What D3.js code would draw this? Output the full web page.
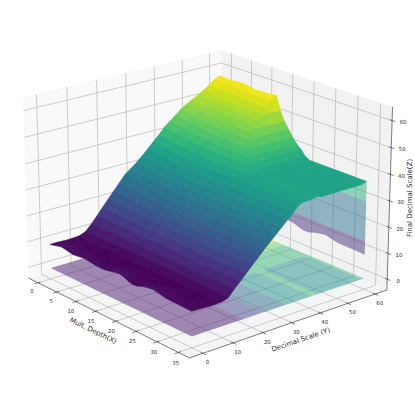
<!DOCTYPE html>
<html>
<head>
<meta charset="utf-8">
<script src="https://cdn.jsdelivr.net/npm/d3@7"></script>
<style>
  html, body { margin: 0; padding: 0; background: #fff; }
  text { font-family: "DejaVu Sans", sans-serif; fill: #2a2a2a; }
</style>
</head>
<body>
<div id="chart"></div>
<script>
// Mult. depth values along the grid (finer where the surface steps down)
let depthValues = [0, 3, 6, 9, 12, 14, 15, 16, 17, 18, 19, 20, 21, 22, 24, 26, 29, 32, 35]
// Decimal scale values along the grid
let scaleValues = d3.range(0, 61, 2)

// Final decimal scale, one row for each decimal scale value
let finalScale = [
  [9.2, 10.4, 9.5, 10.1, 9.4, 9.4, 9.7, 10.0, 10.4, 10.5, 10.0, 9.3, 8.9, 9.0, 10.1, 10.6, 9.5, 9.4, 9.2],
  [9.3, 9.9, 9.2, 9.6, 9.1, 9.1, 9.3, 9.6, 9.9, 10.0, 9.5, 9.0, 8.7, 8.8, 9.6, 10.0, 9.2, 9.2, 9.2],
  [9.2, 9.3, 8.8, 9.1, 8.7, 8.7, 8.9, 9.1, 9.3, 9.4, 9.0, 8.7, 8.5, 8.6, 9.1, 9.4, 8.9, 9.0, 9.1],
  [9.1, 8.8, 8.4, 8.6, 8.3, 8.3, 8.5, 8.6, 8.7, 8.8, 8.5, 8.3, 8.2, 8.2, 8.5, 8.7, 8.5, 8.7, 9.0],
  [9.2, 8.5, 8.1, 8.2, 8.1, 8.0, 8.1, 8.2, 8.2, 8.2, 8.1, 8.0, 8.0, 8.0, 8.0, 8.2, 8.2, 8.5, 9.0],
  [9.4, 9.0, 8.8, 8.7, 8.6, 8.5, 8.6, 8.6, 8.6, 8.6, 8.5, 8.5, 8.5, 8.5, 8.5, 8.6, 8.6, 8.8, 9.1],
  [10.3, 10.4, 10.5, 10.5, 10.4, 10.4, 10.4, 10.4, 10.4, 10.4, 10.4, 10.4, 10.3, 10.3, 10.3, 10.2, 10.2, 10.1, 9.8],
  [12.6, 12.8, 12.9, 12.8, 12.7, 12.6, 12.6, 12.6, 12.6, 12.5, 12.5, 12.5, 12.4, 12.4, 12.4, 12.3, 12.3, 12.3, 12.2],
  [15.2, 15.3, 15.2, 15.1, 14.9, 14.8, 14.8, 14.8, 14.7, 14.7, 14.7, 14.7, 14.6, 14.6, 14.6, 14.5, 14.5, 14.5, 14.4],
  [17.9, 17.9, 17.7, 17.5, 17.2, 17.0, 17.0, 17.0, 16.9, 16.9, 16.9, 16.9, 16.8, 16.8, 16.8, 16.7, 16.7, 16.7, 16.6],
  [20.6, 20.5, 20.2, 19.9, 19.5, 19.3, 19.3, 19.3, 19.2, 19.2, 19.2, 19.2, 19.1, 19.1, 19.1, 19.0, 19.0, 19.0, 18.9],
  [23.2, 23.0, 22.6, 22.1, 21.7, 21.5, 21.5, 21.5, 21.4, 21.4, 21.4, 21.4, 21.3, 21.3, 21.3, 21.2, 21.2, 21.2, 21.1],
  [25.8, 25.4, 24.9, 24.3, 23.9, 23.6, 23.6, 23.6, 23.6, 23.5, 23.5, 23.5, 23.5, 23.4, 23.4, 23.4, 23.4, 23.3, 23.3],
  [28.4, 27.6, 26.9, 26.3, 25.9, 25.6, 25.6, 25.6, 25.6, 25.6, 25.6, 25.5, 25.5, 25.5, 25.5, 25.5, 25.5, 25.5, 25.4],
  [30.0, 29.3, 28.7, 28.2, 27.8, 27.6, 27.6, 27.6, 27.6, 27.6, 27.6, 27.6, 27.6, 27.5, 27.5, 27.5, 27.5, 27.5, 27.5],
  [31.8, 31.2, 30.6, 30.2, 29.8, 29.6, 29.6, 29.6, 29.6, 29.6, 29.6, 29.6, 29.6, 29.6, 29.6, 29.6, 29.6, 29.6, 29.6],
  [33.8, 33.2, 32.6, 32.2, 31.9, 31.7, 31.7, 31.7, 31.7, 31.7, 31.7, 31.7, 31.7, 31.7, 31.7, 31.7, 31.7, 31.7, 31.7],
  [36.0, 35.4, 34.8, 34.3, 34.0, 33.8, 33.8, 33.8, 33.8, 33.8, 33.8, 33.8, 33.8, 33.8, 33.8, 33.8, 33.8, 33.8, 33.8],
  [38.2, 37.6, 37.0, 36.5, 36.2, 36.0, 36.0, 36.0, 36.0, 36.0, 36.0, 36.0, 36.0, 36.0, 36.0, 36.0, 36.0, 36.0, 36.0],
  [40.4, 39.8, 39.2, 38.7, 38.3, 38.1, 38.1, 38.1, 38.1, 38.1, 38.1, 38.1, 38.0, 36.7, 36.5, 36.6, 36.4, 36.5, 36.5],
  [42.8, 42.0, 41.3, 40.8, 40.4, 40.2, 40.2, 40.2, 40.2, 40.2, 40.2, 40.0, 38.0, 36.7, 36.5, 36.6, 36.4, 36.5, 36.5],
  [44.6, 43.8, 43.1, 42.6, 42.2, 42.0, 42.0, 42.0, 42.0, 42.0, 41.5, 40.0, 38.0, 37.1, 37.1, 37.1, 37.1, 37.1, 37.1],
  [46.3, 45.5, 44.8, 44.3, 44.0, 43.8, 43.8, 43.8, 43.8, 43.5, 41.5, 40.0, 38.0, 36.7, 36.5, 36.6, 36.4, 36.5, 36.5],
  [48.2, 47.4, 46.6, 46.1, 45.8, 45.6, 45.6, 45.6, 45.6, 43.5, 41.5, 40.0, 38.0, 36.7, 36.5, 36.6, 36.4, 36.5, 36.5],
  [49.6, 48.9, 48.2, 47.7, 47.4, 47.2, 47.2, 47.2, 46.0, 43.5, 41.5, 40.0, 38.0, 36.7, 36.5, 36.6, 36.4, 36.5, 36.5],
  [50.8, 50.2, 49.6, 49.2, 48.9, 48.8, 48.8, 48.5, 46.0, 43.5, 41.5, 40.0, 38.0, 36.7, 36.5, 36.6, 36.4, 36.5, 36.5],
  [51.9, 51.4, 50.9, 50.6, 50.4, 50.3, 50.3, 48.5, 46.0, 43.5, 41.5, 40.0, 38.0, 36.7, 36.5, 36.6, 36.4, 36.5, 36.5],
  [53.2, 52.8, 52.4, 52.1, 52.0, 51.9, 51.8, 48.5, 46.0, 43.5, 41.5, 40.0, 38.0, 36.7, 36.5, 36.6, 36.4, 36.5, 36.5],
  [54.8, 54.5, 54.2, 53.9, 53.8, 53.8, 52.0, 48.5, 46.0, 43.5, 41.5, 40.0, 38.0, 36.7, 36.5, 36.6, 36.4, 36.5, 36.5],
  [56.4, 56.2, 55.9, 55.7, 55.6, 55.8, 52.0, 48.5, 46.0, 43.5, 41.5, 40.0, 38.0, 36.7, 36.5, 36.6, 36.4, 36.5, 36.5],
  [57.4, 57.2, 57.6, 56.7, 57.0, 57.4, 52.0, 48.5, 46.0, 43.5, 41.5, 40.0, 38.0, 37.1, 37.1, 37.1, 37.1, 37.1, 37.1]
]

// Filled contour levels of the shadow on the floor and on the back wall
let floorLevels = [0, 16, 24, 32, 36.8, 48, 56]
let floorColors = [12, 20, 28, 36, 46, 52, 60]
let wallLevels = [0, 16, 30, 46, 60]

let xTicks = [0, 5, 10, 15, 20, 25, 30, 35]
let yTicks = [0, 10, 20, 30, 40, 50, 60]
let zTicks = [0, 10, 20, 30, 40, 50, 60]

let width = 415
let height = 401

let xLim = [-2.55, 37.55]
let yLim = [-4.375, 64.375]
let zLim = [-4.2, 65]

let xBox = d3.scaleLinear().domain(xLim).range([-0.595, 0.595])
let yBox = d3.scaleLinear().domain(yLim).range([-0.595, 0.595])
let zBox = d3.scaleLinear().domain(zLim).range([-0.446, 0.446])

let xScreen = d3.scaleLinear().domain([-0.1, 0.1]).range([206.5 - 217, 206.5 + 217])
let yScreen = d3.scaleLinear().domain([-0.1, 0.1]).range([194.4 + 217, 194.4 - 217])

// Camera: elevation 20, azimuth -40, distance 10
let elev = 20 * Math.PI / 180
let azim = -40 * Math.PI / 180
let n = [Math.cos(elev) * Math.cos(azim), Math.cos(elev) * Math.sin(azim), Math.sin(elev)]
let u = [-Math.sin(azim), Math.cos(azim), 0]
let v = [-Math.sin(elev) * Math.cos(azim), -Math.sin(elev) * Math.sin(azim), Math.cos(elev)]
let cameraDistance = 10

function dot(a, b) {
  return a[0] * b[0] + a[1] * b[1] + a[2] * b[2]
}

function depth(x, y, z) {
  return dot(n, [xBox(x), yBox(y), zBox(z)])
}

function project(x, y, z) {
  let p = [xBox(x), yBox(y), zBox(z)]
  let w = cameraDistance - dot(n, p)
  return [xScreen(dot(u, p) / w), yScreen(dot(v, p) / w)]
}

function polygon(points) {
  return 'M' + points.map(d => d[0].toFixed(2) + ',' + d[1].toFixed(2)).join('L') + 'Z'
}

let svg = d3.select('#chart')
  .append('svg')
  .attr('width', width)
  .attr('height', height)
  .style('display', 'block')

// Panes
let panes = [
  { fill: '#f5f5f5', corners: [[xLim[0], yLim[0], zLim[0]], [xLim[1], yLim[0], zLim[0]], [xLim[1], yLim[1], zLim[0]], [xLim[0], yLim[1], zLim[0]]] },
  { fill: '#f9f9f9', corners: [[xLim[0], yLim[0], zLim[0]], [xLim[0], yLim[1], zLim[0]], [xLim[0], yLim[1], zLim[1]], [xLim[0], yLim[0], zLim[1]]] },
  { fill: '#f2f2f2', corners: [[xLim[0], yLim[1], zLim[0]], [xLim[1], yLim[1], zLim[0]], [xLim[1], yLim[1], zLim[1]], [xLim[0], yLim[1], zLim[1]]] }
]

svg.append('g')
  .selectAll('path')
  .data(panes)
  .join('path')
  .attr('d', d => polygon(d.corners.map(c => project(c[0], c[1], c[2]))))
  .attr('fill', d => d.fill)

// Grid lines
let gridLines = []
xTicks.forEach(t => {
  gridLines.push([[t, yLim[0], zLim[0]], [t, yLim[1], zLim[0]], [t, yLim[1], zLim[1]]])
})
yTicks.forEach(t => {
  gridLines.push([[xLim[1], t, zLim[0]], [xLim[0], t, zLim[0]], [xLim[0], t, zLim[1]]])
})
zTicks.forEach(t => {
  gridLines.push([[xLim[0], yLim[0], t], [xLim[0], yLim[1], t], [xLim[1], yLim[1], t]])
})

let line = d3.line()

svg.append('g')
  .selectAll('path')
  .data(gridLines)
  .join('path')
  .attr('d', d => line(d.map(c => project(c[0], c[1], c[2]))))
  .attr('fill', 'none')
  .attr('stroke', '#b8b8b8')
  .attr('stroke-width', 0.7)

// Shadow on the floor: filled contours of the surface at z = 0
let columnToDepth = d3.scaleLinear().domain(d3.range(depthValues.length)).range(depthValues).clamp(true)
let rowToScale = d3.scaleLinear().domain(d3.range(scaleValues.length)).range(scaleValues).clamp(true)
let floorColor = d3.scaleSequential(d3.interpolateViridis).domain([8, 64])

let contours = d3.contours()
  .size([depthValues.length, scaleValues.length])
  .thresholds(floorLevels)(finalScale.flat())

function ringsPath(contour) {
  return contour.coordinates.map(poly => poly.map(ring => {
    return polygon(ring.map(d => project(columnToDepth(d[0] - 0.5), rowToScale(d[1] - 0.5), 0)))
  }).join('')).join('')
}

svg.append('g')
  .selectAll('path')
  .data(contours)
  .join('path')
  .attr('d', (d, i) => ringsPath(d) + (contours[i + 1] ? ringsPath(contours[i + 1]) : ''))
  .attr('fill-rule', 'evenodd')
  .attr('fill', (d, i) => floorColor(floorColors[i]))
  .attr('opacity', 0.5)

// Shadow on the back wall: the surface seen along y, coloured by decimal scale
let wallColor = d3.scaleSequential(d3.interpolateViridis).domain([0, 60])
let wallBands = d3.pairs(wallLevels)

function wallEdge(level) {
  let row = finalScale[scaleValues.indexOf(level)]
  return depthValues.map((x, i) => project(x, 60, row[i]))
}

svg.append('g')
  .selectAll('path')
  .data(wallBands)
  .join('path')
  .attr('d', d => polygon(wallEdge(d[0]).concat(wallEdge(d[1]).reverse())))
  .attr('fill', d => wallColor((d[0] + d[1]) / 2))
  .attr('opacity', 0.5)

// Surface, painted from the far facets to the near ones
let surfaceColor = d3.scaleSequential(d3.interpolateViridis).domain(d3.extent(finalScale.flat()))
let facets = []
for (let j = 0; j < scaleValues.length - 1; j++) {
  for (let i = 0; i < depthValues.length - 1; i++) {
    let corners = [
      [depthValues[i], scaleValues[j], finalScale[j][i]],
      [depthValues[i + 1], scaleValues[j], finalScale[j][i + 1]],
      [depthValues[i + 1], scaleValues[j + 1], finalScale[j + 1][i + 1]],
      [depthValues[i], scaleValues[j + 1], finalScale[j + 1][i]]
    ]
    facets.push({
      corners: corners,
      z: d3.mean(corners, c => c[2]),
      depth: d3.mean(corners, c => depth(c[0], c[1], c[2]))
    })
  }
}
facets.sort((a, b) => a.depth - b.depth)

svg.append('g')
  .selectAll('path')
  .data(facets)
  .join('path')
  .attr('d', d => polygon(d.corners.map(c => project(c[0], c[1], c[2]))))
  .attr('fill', d => surfaceColor(d.z))
  .attr('stroke', d => surfaceColor(d.z))
  .attr('stroke-width', 0.6)
  .attr('stroke-linejoin', 'round')

// Axis lines
let axisLines = [
  [[xLim[0], yLim[0], zLim[0]], [xLim[1], yLim[0], zLim[0]]],
  [[xLim[1], yLim[0], zLim[0]], [xLim[1], yLim[1], zLim[0]]],
  [[xLim[1], yLim[1], zLim[0]], [xLim[1], yLim[1], zLim[1]]]
]

svg.append('g')
  .selectAll('path')
  .data(axisLines)
  .join('path')
  .attr('d', d => line(d.map(c => project(c[0], c[1], c[2]))))
  .attr('fill', 'none')
  .attr('stroke', '#444')
  .attr('stroke-width', 0.7)

// Ticks
let tickMarks = []
xTicks.forEach(t => tickMarks.push([[t, yLim[0] + 0.8, zLim[0]], [t, yLim[0] - 1.2, zLim[0]]]))
yTicks.forEach(t => tickMarks.push([[xLim[1] - 0.5, t, zLim[0]], [xLim[1] + 0.7, t, zLim[0]]]))
zTicks.forEach(t => tickMarks.push([[xLim[1] - 0.5, yLim[1], t], [xLim[1] + 0.7, yLim[1], t]]))

svg.append('g')
  .selectAll('path')
  .data(tickMarks)
  .join('path')
  .attr('d', d => line(d.map(c => project(c[0], c[1], c[2]))))
  .attr('fill', 'none')
  .attr('stroke', '#444')
  .attr('stroke-width', 0.7)

// Tick labels
let tickLabels = []
xTicks.forEach(t => {
  let p = project(t, yLim[0], zLim[0])
  tickLabels.push({ text: t, x: p[0] - 6 + 3.3 * t / 35, y: p[1] + 9 + 2 * t / 35 })
})
yTicks.forEach(t => {
  let p = project(xLim[1], t, zLim[0])
  tickLabels.push({ text: t, x: p[0] + 4.5, y: p[1] + 9.5 })
})
zTicks.forEach(t => {
  let p = project(xLim[1], yLim[1], t)
  tickLabels.push({ text: t, x: p[0] + 11, y: p[1] + 2 })
})

// Group opacity keeps the small text greyscale instead of colour fringed
let textLayer = svg.append('g').attr('opacity', 0.99)

textLayer.append('g')
  .selectAll('text')
  .data(tickLabels)
  .join('text')
  .attr('x', d => d.x)
  .attr('y', d => d.y)
  .attr('text-anchor', 'middle')
  .attr('dominant-baseline', 'middle')
  .attr('font-size', 5.4)
  .text(d => d.text)

// Axis labels
let axisLabels = [
  { text: 'Mult. Depth(X)', x: 93, y: 331, angle: 26 },
  { text: 'Decimal Scale (Y)', x: 301, y: 340, angle: -19 },
  { text: 'Final Decimal Scale(Z)', x: 410, y: 198, angle: -90 }
]

textLayer.append('g')
  .selectAll('text')
  .data(axisLabels)
  .join('text')
  .attr('transform', d => 'translate(' + d.x + ',' + d.y + ') rotate(' + d.angle + ')')
  .attr('text-anchor', 'middle')
  .attr('dominant-baseline', 'middle')
  .attr('font-size', 7)
  .text(d => d.text)
</script>
</body>
</html>
